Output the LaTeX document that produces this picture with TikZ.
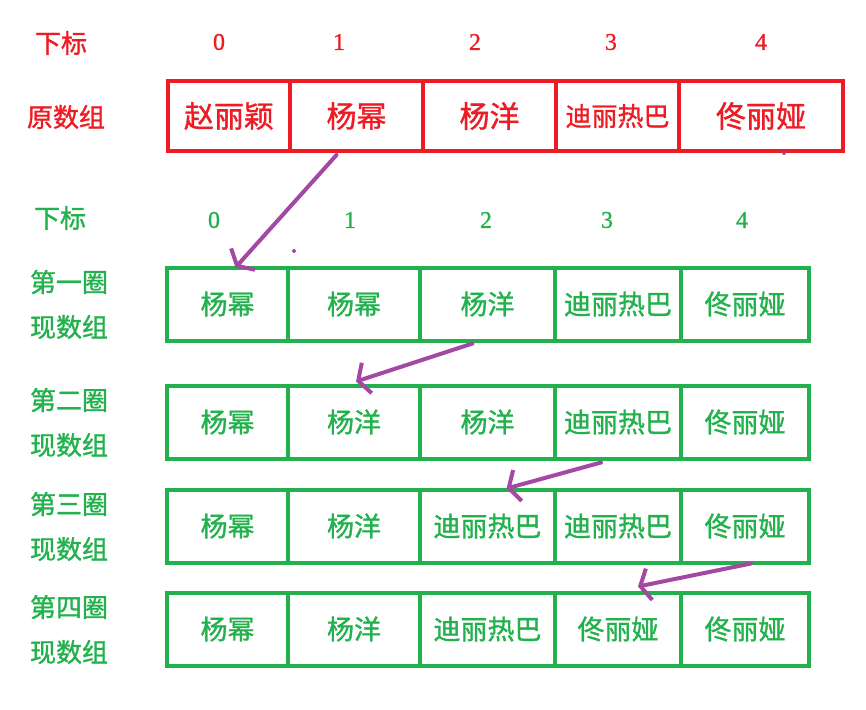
\documentclass[tikz,border=0pt]{standalone}
\usepackage{fontspec}
\setmainfont[FakeBold=1]{Liberation Serif}
\newfontfamily\cjk[FakeBold=1.2]{Noto Sans CJK SC}
\usetikzlibrary{arrows.meta, positioning}
\definecolor{oldred}{HTML}{ED1C24}
\definecolor{newgreen}{HTML}{22B14C}
\definecolor{movepurple}{HTML}{A349A4}

\begin{document}
\begin{tikzpicture}[x=1pt, y=-1pt,
    cell/.style={draw, rectangle, line width=4pt, inner sep=0pt, font=\cjk\fontsize{27}{27}\selectfont},
    lab/.style={font=\cjk\fontsize{26}{26}\selectfont},
    idx/.style={font=\fontsize{24}{24}\selectfont},
    move/.style={movepurple, line width=4pt, line cap=round, -{Straight Barb[length=9pt, width=32pt]}}]
    \useasboundingbox (0,0) rectangle (866,709);
    \def\xsred{{168,290,423,556,679,843}}
    \def\xsgreen{{167,288,420,555,681,809}}
    % Original array
    \node[lab, oldred] (idxlab0) at (61,43) {下标};
    \foreach \c/\x in {0/219, 1/339, 2/475, 3/611, 4/761}
        \node[idx, oldred] (idx0\c) at (\x,42) {\c};
    \node[lab, oldred] (arrlab0) at (66,117) {原数组};
    \foreach \name [count=\c from 0] in {赵丽颖, 杨幂, 杨洋, {\fontsize{26}{26}\selectfont 迪丽热巴}, 佟丽娅} {
        \pgfmathsetmacro\xl{\xsred[\c]}
        \pgfmathsetmacro\xr{\xsred[\c+1]}
        \node[cell, oldred, font=\cjk\fontsize{30}{30}\selectfont,
              minimum width={(\xr-\xl)*1pt}, minimum height=70pt]
            (r0c\c) at ({(\xl+\xr)/2}, 116) {\name};
    }
    % Indices of the new arrays
    \node[lab, newgreen] (idxlab1) at (60,218) {下标};
    \foreach \c/\x in {0/214, 1/350, 2/486, 3/607, 4/742}
        \node[idx, newgreen] (idx1\c) at (\x,220) {\c};
    % Arrays after each round
    \foreach \r/\round/\ym/\names in {
        1/一/304/{杨幂,杨幂,杨洋,迪丽热巴,佟丽娅},
        2/二/422/{杨幂,杨洋,杨洋,迪丽热巴,佟丽娅},
        3/三/526/{杨幂,杨洋,迪丽热巴,迪丽热巴,佟丽娅},
        4/四/629/{杨幂,杨洋,迪丽热巴,佟丽娅,佟丽娅}} {
        \node[lab, newgreen] (roundlab\r) at (69,\ym-22) {第\round 圈};
        \node[lab, newgreen] (arrlab\r) at (69,\ym+23) {现数组};
        \foreach \name [count=\c from 0] in \names {
            \pgfmathsetmacro\xl{\xsgreen[\c]}
            \pgfmathsetmacro\xr{\xsgreen[\c+1]}
            \node[cell, newgreen, minimum width={(\xr-\xl)*1pt}, minimum height=73pt]
                (r\r c\c) at ({(\xl+\xr)/2}, \ym) {\name};
        }
    }
    % Moves
    \draw[move] ([xshift=-20pt, yshift=-2pt]r0c1.south) -- ([xshift=8pt, yshift=-2pt]r1c0.north);
    \draw[move] ([xshift=-15pt, yshift=-1pt]r1c2.south) -- ([xshift=2pt, yshift=2pt]r2c1.north);
    \draw[move] ([xshift=-17pt, yshift=-2pt]r2c3.south) -- ([xshift=19pt, yshift=-1pt]r3c2.north);
    \draw[move] ([xshift=6pt, yshift=1pt]r3c4.south) -- ([xshift=20pt, yshift=4pt]r4c3.north);
    % Stray dots
    \fill[movepurple] (294,251) circle (2);
    \fill[movepurple] (784,153) circle (2);
\end{tikzpicture}
\end{document}
